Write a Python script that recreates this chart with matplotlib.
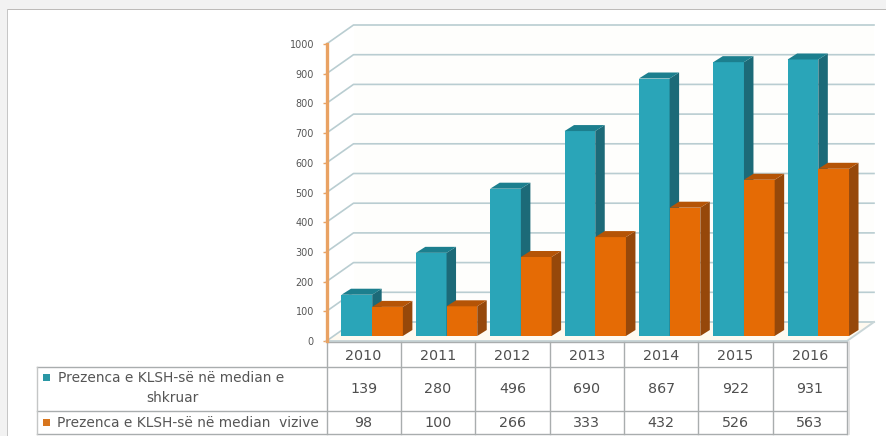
import matplotlib
matplotlib.use("Agg")
import matplotlib.pyplot as plt
from matplotlib.patches import Polygon, Rectangle

years = ["2010", "2011", "2012", "2013", "2014", "2015", "2016"]
written = [139, 280, 496, 690, 867, 922, 931]
visual = [98, 100, 266, 333, 432, 526, 563]
written_name = "Prezenca e KLSH-së në median e\nshkruar"
visual_name = "Prezenca e KLSH-së në median  vizive"
yticks = list(range(0, 1001, 100))

W, H = 886, 436
plt.rcParams["font.family"] = ["DejaVu Sans"]
fig = plt.figure(figsize=(W / 100, H / 100), dpi=100, facecolor="white")

# plot frame in pixels
L, R, T, B = 326.5, 847.0, 44.0, 341.0
ax = fig.add_axes([L / W, 1 - B / H, (R - L) / W, (B - T) / H])
ax.set_xlim(-0.5, 6.5)
ax.set_ylim(0, 1000)
ax.patch.set_alpha(0)
ax.set_zorder(5)

def DX(px):
    return px * 7 / (R - L)

def DY(px):
    return px * 1000 / (B - T)

def PX(px):
    return -0.5 + DX(px - L)

def PY(py):
    return DY(B - py)

# page chrome
bg = fig.add_axes([0, 0, 1, 1], zorder=0)
bg.set_xlim(0, W)
bg.set_ylim(H, 0)
bg.axis("off")
bg.add_patch(Rectangle((0, 0), W, 9, fc="#F2F2F2", ec="none"))
bg.add_patch(Rectangle((0, 9), 7, H, fc="#F2F2F2", ec="none"))
bg.add_patch(Rectangle((7, 9), W, 1.5, fc="#BDBBB9", ec="none"))
bg.add_patch(Rectangle((7, 9), 1.3, H, fc="#C6C6C6", ec="none"))

# walls and gridlines
wall_dx, wall_dy = DX(27), DY(19)
ax.add_patch(Polygon([(-0.5, 0), (6.5, 0), (6.5 + wall_dx, wall_dy), (-0.5 + wall_dx, wall_dy)],
                     closed=True, fc="#FFFAF0", ec="none", zorder=1, clip_on=False))
ax.add_patch(Rectangle((-0.5 + wall_dx, wall_dy), 7, 1000, fc="#FEFEFC", ec="none", zorder=0.5, clip_on=False))
grid = "#B9CDD1"
for v in yticks:
    ax.plot([-0.5, -0.5 + wall_dx, 6.5 + wall_dx], [v, v + wall_dy, v + wall_dy],
            color=grid, lw=1.2, zorder=1.5, clip_on=False)
ax.plot([-0.5, 6.5, 6.5 + wall_dx], [0, 0, wall_dy], color="#C9D6D8", lw=1.4, zorder=1.6, clip_on=False)

# bars with depth
bw = DX(30.7)
base_dx, base_dy = DX(8.5), DY(5)
dep_x, dep_y = DX(9.5), DY(6)
styles = [(written, -bw / 2, "#2AA5B8", "#1C7F8E", "#1C6A78"),
          (visual, bw / 2, "#E56B05", "#B55406", "#96480A")]
for i in range(len(years)):
    for vals, off, front, top, side in styles:
        x = i + off + base_dx
        v = vals[i]
        l, r = x - bw / 2, x + bw / 2
        z = 3 + i * 0.1 + (off > 0) * 0.05
        ax.bar(x, v, bw, bottom=base_dy, color=front, lw=0, zorder=z, clip_on=False)
        ax.add_patch(Polygon([(r, base_dy), (r + dep_x, base_dy + dep_y), (r + dep_x, base_dy + v + dep_y), (r, base_dy + v)],
                             closed=True, fc=side, ec="none", zorder=z, clip_on=False))
        ax.add_patch(Polygon([(l, base_dy + v), (r, base_dy + v), (r + dep_x, base_dy + v + dep_y), (l + dep_x, base_dy + v + dep_y)],
                             closed=True, fc=top, ec="none", zorder=z, clip_on=False))

# axes
for s in ["top", "right", "bottom"]:
    ax.spines[s].set_visible(False)
ax.spines["left"].set_color("#E9A263")
ax.spines["left"].set_linewidth(2.4)
ax.spines["left"].set_zorder(2)
ax.set_yticks(yticks)
ax.tick_params(axis="y", length=3, width=1, color="#E9A263", labelsize=6.9, labelcolor="#555555", pad=6)
ax.set_xticks(range(len(years)))
ax.set_xticklabels(years)
ax.tick_params(axis="x", length=0, labelsize=10.3, labelcolor="#4F4F4F", pad=6)

# table
line = "#A9ADAE"
row_lines = [PY(342), PY(366.5), PY(410.5), PY(433.5)]
tx0 = PX(37)
for j, y in enumerate(row_lines):
    ax.plot([PX(327) if j == 0 else tx0, 6.5], [y, y], color=line, lw=1.0, clip_on=False, zorder=2)
ax.plot([tx0, tx0], [row_lines[1], row_lines[3]], color="#C4C6C6", lw=1.0, clip_on=False, zorder=2)
for k in range(len(years) + 1):
    ax.plot([k - 0.5, k - 0.5], [row_lines[0], row_lines[3]], color=line, lw=1.0, clip_on=False, zorder=2)
ax.plot([6.5 + DX(1.5)] * 2, [row_lines[0], row_lines[3]], color="#DDDDDD", lw=1.2, clip_on=False, zorder=2)

row_y = [PY(389), PY(422.5)]
for i in range(len(years)):
    ax.text(i, row_y[0], str(written[i]), ha="center", va="center", fontsize=10.3, color="#4F4F4F", clip_on=False)
    ax.text(i, row_y[1], str(visual[i]), ha="center", va="center", fontsize=10.3, color="#4F4F4F", clip_on=False)

ax.add_patch(Rectangle((PX(43), PY(381)), DX(7), DY(7), fc="#2A97A5", ec="none", clip_on=False))
ax.add_patch(Rectangle((PX(43), PY(426)), DX(7), DY(7), fc="#D8761E", ec="none", clip_on=False))
first, second = written_name.split("\n")
ax.text(PX(58), PY(378), first, ha="left", va="center", fontsize=9.9, color="#555555", clip_on=False)
ax.text(PX(172), PY(398), second, ha="center", va="center", fontsize=9.9, color="#555555", clip_on=False)
ax.text(PX(57), PY(422.5), visual_name, ha="left", va="center", fontsize=9.9, color="#555555", clip_on=False)

fig.savefig("out.png", dpi=100)
